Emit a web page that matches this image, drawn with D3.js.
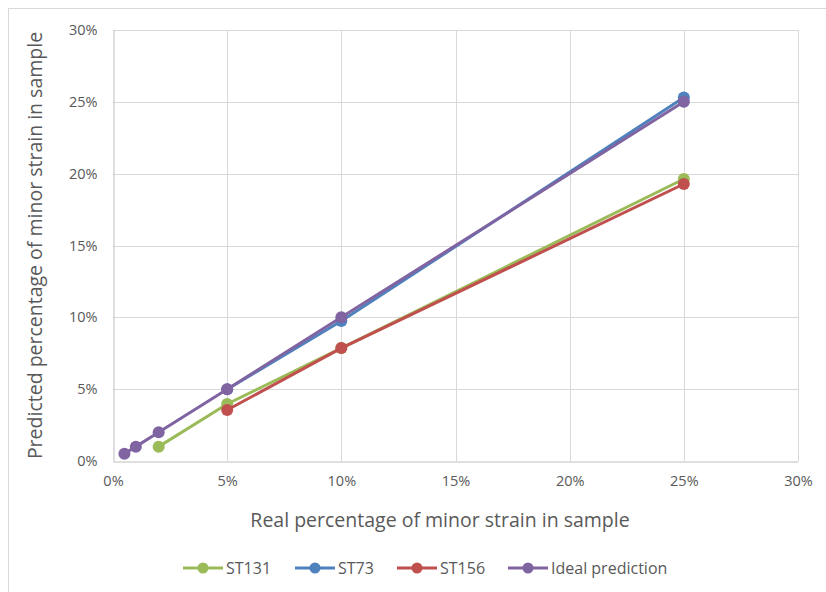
<!DOCTYPE html>
<html>
<head>
<meta charset="utf-8">
<script src="https://cdn.jsdelivr.net/npm/d3@7"></script>
<style>
  body { margin: 0; background: #fff; }
  svg { display: block; font-family: "Open Sans", "Noto Sans", sans-serif; }
</style>
</head>
<body>
<svg id="chart" width="826" height="592"></svg>
<script>
// --- data (percent) ---
const xTicks = [0, 5, 10, 15, 20, 25, 30];
const yTicks = [0, 5, 10, 15, 20, 25, 30];

const st131X = [2, 5, 10, 25];
const st131Y = [1.0, 3.97, 7.86, 19.63];

const st73X = [5, 10, 25];
const st73Y = [5.0, 9.74, 25.3];

const st156X = [5, 10, 25];
const st156Y = [3.55, 7.86, 19.28];

const idealX = [0.5, 1, 2, 5, 10, 25];
const idealY = [0.5, 1, 2, 5, 10, 25];

const series = [
    { name: "ST131", color: "#9bbb59", xs: st131X, ys: st131Y },
    { name: "ST73", color: "#4f81bd", xs: st73X, ys: st73Y },
    { name: "ST156", color: "#c0504d", xs: st156X, ys: st156Y },
    { name: "Ideal prediction", color: "#8064a2", xs: idealX, ys: idealY }
];

const svg = d3.select("#chart");

// chart frame
svg.append("rect")
    .attr("x", 8.5).attr("y", 8.5)
    .attr("width", 830).attr("height", 600)
    .attr("fill", "#fff")
    .attr("stroke", "#d9d9d9");

const plot = { left: 113, right: 798, top: 30, bottom: 461 };

const x = d3.scaleLinear().domain([0, 30]).range([plot.left, plot.right]);
const y = d3.scaleLinear().domain([0, 30]).range([plot.bottom, plot.top]);

// gridlines
svg.append("g")
    .selectAll("line.h")
    .data(yTicks.slice(1))
    .enter().append("line")
    .attr("x1", plot.left).attr("x2", plot.right)
    .attr("y1", d => Math.round(y(d)) + 0.5).attr("y2", d => Math.round(y(d)) + 0.5)
    .attr("stroke", "#d9d9d9");

svg.append("g")
    .selectAll("line.v")
    .data(xTicks.slice(1))
    .enter().append("line")
    .attr("y1", plot.top).attr("y2", plot.bottom)
    .attr("x1", d => Math.round(x(d)) + 0.5).attr("x2", d => Math.round(x(d)) + 0.5)
    .attr("stroke", "#d9d9d9");

// axes
const xAxis = svg.append("g")
    .attr("transform", `translate(0,${Math.round(plot.bottom) + 0.5})`)
    .call(d3.axisBottom(x).tickValues(xTicks).tickSize(0).tickPadding(14).tickFormat(d => d + "%"));
const yAxis = svg.append("g")
    .attr("transform", `translate(${plot.left + 0.5},0)`)
    .call(d3.axisLeft(y).tickValues(yTicks).tickSize(0).tickPadding(16).tickFormat(d => d + "%"));

[xAxis, yAxis].forEach(a => {
    a.select(".domain").attr("stroke", "#bfbfbf");
    a.selectAll("text").attr("fill", "#595959").style("font-size", "14.5px")
        .style("font-family", "'Open Sans', sans-serif");
});

// axis titles
svg.append("text")
    .attr("x", 440).attr("y", 527)
    .attr("text-anchor", "middle")
    .attr("fill", "#595959")
    .style("font-size", "19.5px")
    .text("Real percentage of minor strain in sample");

svg.append("text")
    .attr("transform", `translate(42,${(plot.top + plot.bottom) / 2}) rotate(-90)`)
    .attr("text-anchor", "middle")
    .attr("fill", "#595959")
    .style("font-size", "19.5px")
    .text("Predicted percentage of minor strain in sample");

// series
const line = d3.line().x(d => x(d[0])).y(d => y(d[1]));

series.forEach(s => {
    const pts = s.xs.map((v, i) => [v, s.ys[i]]);
    const g = svg.append("g");
    g.append("path")
        .datum(pts)
        .attr("d", line)
        .attr("fill", "none")
        .attr("stroke", s.color)
        .attr("stroke-width", 3);
    g.selectAll("circle")
        .data(pts)
        .enter().append("circle")
        .attr("cx", d => x(d[0]))
        .attr("cy", d => y(d[1]))
        .attr("r", 6)
        .attr("fill", s.color);
});

// legend
const legendX = [183, 295, 397, 508];
const legend = svg.append("g").attr("transform", "translate(0,568)");
series.forEach((s, i) => {
    const g = legend.append("g").attr("transform", `translate(${legendX[i]},0)`);
    g.append("line").attr("x1", 0).attr("x2", 40).attr("stroke", s.color).attr("stroke-width", 3);
    g.append("circle").attr("cx", 20).attr("r", 5.5).attr("fill", s.color);
    g.append("text")
        .attr("x", 43).attr("y", 5.5)
        .attr("fill", "#595959")
        .style("font-size", "16px")
        .text(s.name);
});
</script>
</body>
</html>
